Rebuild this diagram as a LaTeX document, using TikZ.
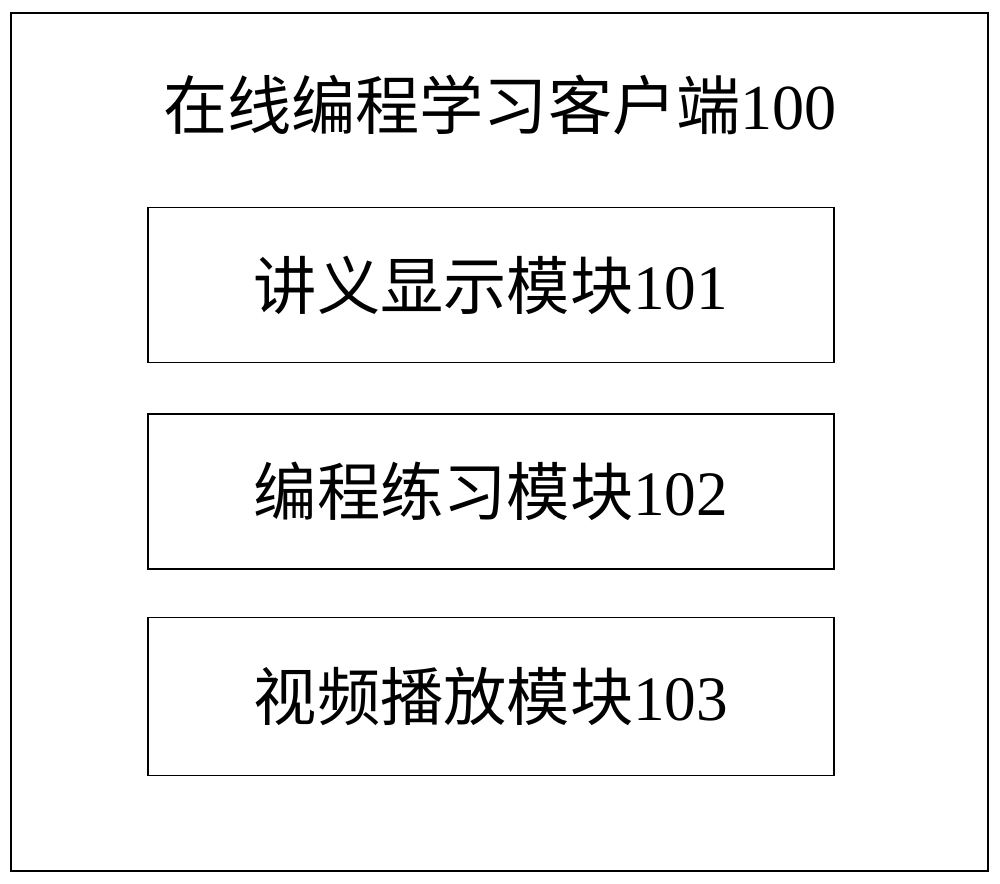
\documentclass[tikz,border=0pt]{standalone}
\usepackage{fontspec}
\setmainfont{Liberation Serif}
\newfontfamily\cjk{Noto Sans CJK SC}
\usetikzlibrary{positioning}
\tikzset{
    modbox/.style={draw,line width=1pt,minimum width=13.72cm,minimum height=3.1cm,
        font=\fontsize{36}{40}\selectfont},
}
\begin{document}
\begin{tikzpicture}
\useasboundingbox(0,0)rectangle(20,-17.66);
\node[draw,line width=1pt,minimum width=19.54cm,minimum height=17.16cm](client)at(9.99,-8.84){};
\node[font=\fontsize{36.5}{40}\selectfont](title)at(10,-2.1){{\cjk 在线编程学习客户端}100};

\node[modbox](lecture)at(9.82,-5.7){{\cjk 讲义显示模块}101};
\node[modbox,below=0.99cm of lecture](practice){{\cjk 编程练习模块}102};
\node[modbox,below=0.94cm of practice,minimum height=3.16cm](video){{\cjk 视频播放模块}103};

\end{tikzpicture}
\end{document}
